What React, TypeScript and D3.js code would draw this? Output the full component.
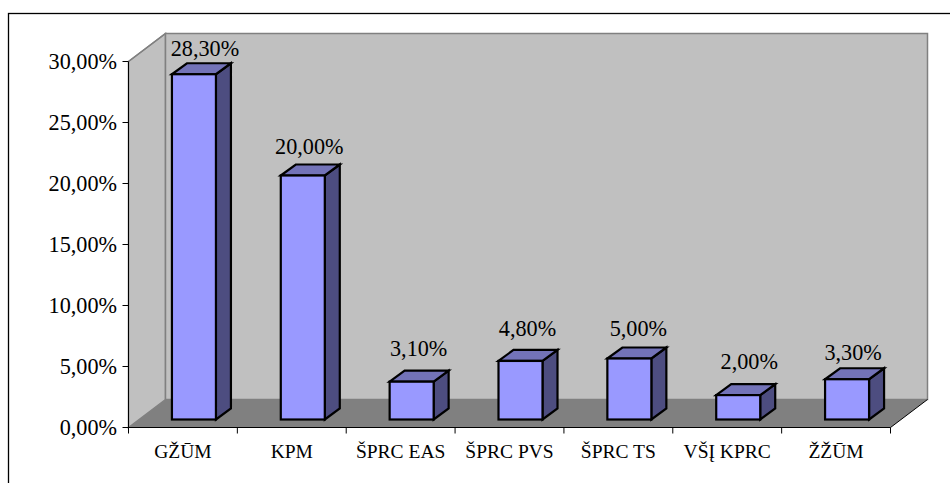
import React from "react";
import * as d3 from "d3";

const categories = ["GŽŪM", "KPM", "ŠPRC EAS", "ŠPRC PVS", "ŠPRC TS", "VŠĮ KPRC", "ŽŽŪM"];
const values = [28.3, 20.0, 3.1, 4.8, 5.0, 2.0, 3.3];
const tickValues = [0, 5, 10, 15, 20, 25, 30];

const fmt = (v: number, d = 2) => v.toFixed(d).replace(".", ",") + "%";
const FONT = "'Liberation Serif', serif";

// per-label placement nudges seen in the reference
const labelNudgeX = [-1, -5.5, -5, -5, -3, -1, -6];
const labelNudgeY = [1, -3, -7, -6, -4, -7, 0];

export default function App() {
  const x0 = 128.5, x1 = 890.5, yTop = 61.5, yBot = 427.5;
  const wallDx = 37, wallDy = -28;
  const barDx = 15, barDy = -11;
  const x = d3.scaleBand<string>().domain(categories).range([x0, x1]);
  const y = d3.scaleLinear().domain([0, 30]).range([yBot, yTop]);
  const barW = 44;
  const baseShift = -8;
  const poly = (p: number[][]) => p.map((a) => a.join(",")).join(" ");
  return (
    <svg width={950} height={483} style={{ position: "absolute", left: 0, top: 0 }} fontFamily={FONT}>
      <rect x={0} y={0} width={950} height={483} fill="#fff" />
      <rect x={8.5} y={13.5} width={960} height={490} fill="#fff" stroke="#000" strokeWidth={1.3} />
      {/* side wall */}
      <polygon points={poly([[x0, yTop], [x0 + wallDx, yTop + wallDy], [x0 + wallDx, yBot + wallDy], [x0, yBot]])} fill="#c0c0c0" stroke="#808080" strokeWidth={1.5} />
      {/* back wall */}
      <polygon points={poly([[x0 + wallDx, yTop + wallDy], [x1 + wallDx, yTop + wallDy], [x1 + wallDx, yBot + wallDy], [x0 + wallDx, yBot + wallDy]])} fill="#c0c0c0" stroke="#808080" strokeWidth={1.5} />
      {/* floor */}
      <polygon points={poly([[x0, yBot], [x0 + wallDx, yBot + wallDy], [x1 + wallDx, yBot + wallDy], [x1, yBot]])} fill="#808080" />
      {/* axes */}
      <path d={`M${x0},${yTop}V${yBot}H${x1}L${x1 + wallDx},${yBot + wallDy}`} fill="none" stroke="#000" strokeWidth={1} />
      <path d={`M${x0},${yTop}L${x0 + wallDx},${yTop + wallDy}`} fill="none" stroke="#808080" strokeWidth={1.5} />
      {tickValues.map((t) => (
        <g key={t}>
          <line x1={x0 - 6} x2={x0} y1={y(t)} y2={y(t)} stroke="#000" />
          <text x={x0 - 11.5} y={y(t) + 7} textAnchor="end" fontSize={22.2} fill="#000">{fmt(t)}</text>
        </g>
      ))}
      {d3.range(categories.length + 1).map((i) => {
        const px = x0 + i * x.step();
        return <line key={i} x1={px} x2={px} y1={yBot} y2={yBot + 6} stroke="#000" />;
      })}
      {categories.map((c) => (
        <text key={c} x={(x(c) as number) + x.bandwidth() / 2} y={458} textAnchor="middle" fontSize={19.5} fill="#000">{c}</text>
      ))}
      {categories.map((c, i) => {
        const left = (x(c) as number) + x.bandwidth() / 2 + 11 - barW / 2;
        const right = left + barW;
        const bottom = yBot + baseShift;
        const top = y(values[i]) + baseShift;
        return (
          <g key={c} stroke="#000" strokeWidth={2.2} strokeLinejoin="miter">
            <polygon points={poly([[right, top], [right + barDx, top + barDy], [right + barDx, bottom + barDy], [right, bottom]])} fill="#4d4d80" />
            <polygon points={poly([[left, top], [left + barDx, top + barDy], [right + barDx, top + barDy], [right, top]])} fill="#7373b8" />
            <rect x={left} y={top} width={barW} height={bottom - top} fill="#9999ff" />
            <text x={left + barW / 2 + 12 + labelNudgeX[i]} y={top + barDy - 8 + labelNudgeY[i]} textAnchor="middle" fontSize={22.2} fill="#000" stroke="none">{fmt(values[i])}</text>
          </g>
        );
      })}
    </svg>
  );
}
